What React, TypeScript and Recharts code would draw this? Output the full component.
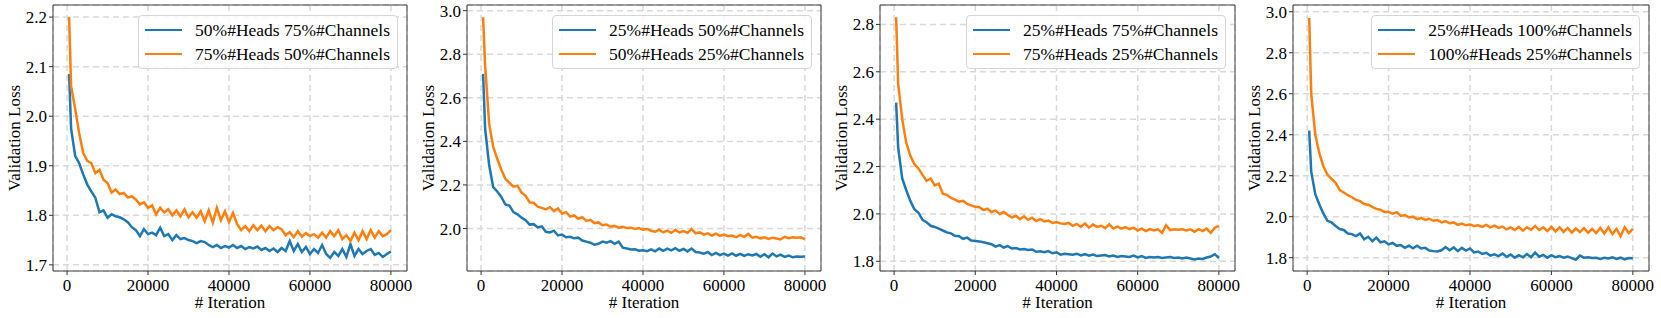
import React from 'react';
import { LineChart, Line, XAxis, YAxis, CartesianGrid, Legend, ReferenceArea } from 'recharts';

const FONT = '"Liberation Serif", "Times New Roman", Times, serif';
const FONT_SIZE = 17;
const BLUE = '#1f77b4';
const ORANGE = '#ff7f0e';

// evaluation checkpoints (x values)
const iterations = [
  500,
  1000, 2000, 3000, 4000, 5000, 6000, 7000, 8000, 9000, 10000,
  11000, 12000, 13000, 14000, 15000, 16000, 17000, 18000, 19000, 20000,
  21000, 22000, 23000, 24000, 25000, 26000, 27000, 28000, 29000, 30000,
  31000, 32000, 33000, 34000, 35000, 36000, 37000, 38000, 39000, 40000,
  41000, 42000, 43000, 44000, 45000, 46000, 47000, 48000, 49000, 50000,
  51000, 52000, 53000, 54000, 55000, 56000, 57000, 58000, 59000, 60000,
  61000, 62000, 63000, 64000, 65000, 66000, 67000, 68000, 69000, 70000,
  71000, 72000, 73000, 74000, 75000, 76000, 77000, 78000, 79000, 80000,
];
const xTicks = [0, 20000, 40000, 60000, 80000];

// panel 1
const p1Names = ['50%#Heads 75%#Channels', '75%#Heads 50%#Channels'];
const p1Blue = [
  2.085,
  1.975, 1.920, 1.905, 1.882, 1.862, 1.848, 1.835, 1.806, 1.810, 1.795,
  1.802, 1.798, 1.796, 1.792, 1.786, 1.776, 1.770, 1.758, 1.772, 1.762,
  1.765, 1.760, 1.775, 1.758, 1.762, 1.750, 1.760, 1.752, 1.754, 1.750,
  1.748, 1.744, 1.748, 1.746, 1.740, 1.736, 1.740, 1.734, 1.738, 1.735,
  1.740, 1.734, 1.738, 1.732, 1.736, 1.733, 1.737, 1.730, 1.734, 1.728,
  1.733, 1.726, 1.734, 1.728, 1.748, 1.728, 1.742, 1.726, 1.736, 1.722,
  1.732, 1.724, 1.740, 1.722, 1.714, 1.726, 1.718, 1.732, 1.716, 1.742,
  1.718, 1.732, 1.722, 1.728, 1.732, 1.720, 1.724, 1.716, 1.722, 1.727,
];
const p1Orange = [
  2.200,
  2.060, 2.015, 1.965, 1.925, 1.910, 1.905, 1.885, 1.892, 1.872, 1.865,
  1.846, 1.852, 1.843, 1.845, 1.836, 1.838, 1.832, 1.822, 1.826, 1.815,
  1.820, 1.802, 1.815, 1.806, 1.812, 1.800, 1.810, 1.798, 1.812, 1.796,
  1.806, 1.795, 1.808, 1.788, 1.810, 1.785, 1.815, 1.790, 1.808, 1.786,
  1.805, 1.782, 1.770, 1.778, 1.768, 1.780, 1.770, 1.779, 1.768, 1.778,
  1.770, 1.776, 1.772, 1.760, 1.766, 1.756, 1.768, 1.757, 1.764, 1.758,
  1.762, 1.755, 1.765, 1.755, 1.768, 1.758, 1.770, 1.752, 1.760, 1.748,
  1.765, 1.750, 1.768, 1.752, 1.770, 1.755, 1.768, 1.758, 1.762, 1.770,
];
const p1Ticks = [1.7, 1.8, 1.9, 2.0, 2.1, 2.2];

// panel 2
const p2Names = ['25%#Heads 50%#Channels', '50%#Heads 25%#Channels'];
const p2Blue = [
  2.710,
  2.460, 2.290, 2.190, 2.170, 2.145, 2.110, 2.105, 2.075, 2.065, 2.050,
  2.038, 2.018, 2.020, 2.005, 2.010, 1.985, 1.982, 1.990, 1.968, 1.972,
  1.960, 1.962, 1.955, 1.958, 1.945, 1.940, 1.935, 1.926, 1.930, 1.940,
  1.935, 1.942, 1.930, 1.940, 1.912, 1.908, 1.904, 1.905, 1.898, 1.900,
  1.896, 1.904, 1.895, 1.908, 1.898, 1.908, 1.900, 1.910, 1.898, 1.906,
  1.895, 1.908, 1.892, 1.890, 1.884, 1.892, 1.878, 1.888, 1.878, 1.885,
  1.876, 1.886, 1.875, 1.884, 1.874, 1.882, 1.876, 1.883, 1.870, 1.882,
  1.868, 1.885, 1.872, 1.880, 1.870, 1.876, 1.868, 1.872, 1.870, 1.871,
];
const p2Orange = [
  2.970,
  2.750, 2.480, 2.375, 2.320, 2.270, 2.228, 2.210, 2.192, 2.196, 2.165,
  2.150, 2.120, 2.118, 2.100, 2.095, 2.088, 2.098, 2.080, 2.092, 2.068,
  2.075, 2.055, 2.060, 2.045, 2.052, 2.035, 2.040, 2.025, 2.028, 2.015,
  2.018, 2.008, 2.012, 2.004, 2.008, 2.002, 2.004, 1.998, 2.002, 1.995,
  1.998, 1.990, 1.985, 1.995, 1.982, 1.990, 1.980, 1.994, 1.982, 1.988,
  1.980, 1.998, 1.978, 1.982, 1.972, 1.978, 1.968, 1.976, 1.966, 1.972,
  1.965, 1.968, 1.960, 1.970, 1.962, 1.975, 1.958, 1.962, 1.955, 1.960,
  1.952, 1.958, 1.954, 1.950, 1.962, 1.956, 1.960, 1.958, 1.960, 1.950,
];
const p2Ticks = [2.0, 2.2, 2.4, 2.6, 2.8, 3.0];

// panel 3
const p3Names = ['25%#Heads 75%#Channels', '75%#Heads 25%#Channels'];
const p3Blue = [
  2.470,
  2.280, 2.150, 2.100, 2.055, 2.020, 2.005, 1.975, 1.965, 1.950, 1.945,
  1.938, 1.930, 1.922, 1.918, 1.908, 1.906, 1.895, 1.900, 1.888, 1.886,
  1.884, 1.880, 1.876, 1.872, 1.862, 1.868, 1.858, 1.864, 1.854, 1.856,
  1.850, 1.852, 1.848, 1.850, 1.840, 1.842, 1.838, 1.843, 1.834, 1.838,
  1.828, 1.832, 1.830, 1.828, 1.832, 1.825, 1.830, 1.824, 1.828, 1.822,
  1.824, 1.826, 1.820, 1.824, 1.818, 1.822, 1.820, 1.818, 1.824, 1.816,
  1.822, 1.814, 1.818, 1.816, 1.818, 1.814, 1.816, 1.818, 1.814, 1.816,
  1.812, 1.816, 1.812, 1.808, 1.812, 1.810, 1.816, 1.820, 1.830, 1.814,
];
const p3Orange = [
  2.830,
  2.550, 2.400, 2.300, 2.245, 2.210, 2.192, 2.165, 2.140, 2.150, 2.120,
  2.128, 2.085, 2.080, 2.068, 2.060, 2.052, 2.055, 2.042, 2.036, 2.030,
  2.028, 2.016, 2.022, 2.008, 2.014, 2.000, 2.008, 1.996, 1.985, 1.992,
  1.978, 1.990, 1.975, 1.984, 1.970, 1.978, 1.968, 1.972, 1.962, 1.966,
  1.960, 1.958, 1.962, 1.950, 1.958, 1.945, 1.960, 1.942, 1.955, 1.945,
  1.950, 1.940, 1.956, 1.938, 1.946, 1.938, 1.944, 1.936, 1.942, 1.930,
  1.938, 1.928, 1.936, 1.930, 1.935, 1.920, 1.952, 1.932, 1.935, 1.933,
  1.935, 1.930, 1.935, 1.925, 1.936, 1.928, 1.938, 1.920, 1.942, 1.950,
];
const p3Ticks = [1.8, 2.0, 2.2, 2.4, 2.6, 2.8];

// panel 4
const p4Names = ['25%#Heads 100%#Channels', '100%#Heads 25%#Channels'];
const p4Blue = [
  2.420,
  2.220, 2.110, 2.060, 2.015, 1.980, 1.972, 1.955, 1.940, 1.935, 1.918,
  1.915, 1.905, 1.918, 1.890, 1.902, 1.880, 1.898, 1.875, 1.880, 1.865,
  1.872, 1.858, 1.862, 1.848, 1.858, 1.846, 1.858, 1.845, 1.848, 1.835,
  1.832, 1.830, 1.836, 1.852, 1.836, 1.850, 1.832, 1.848, 1.835, 1.845,
  1.826, 1.830, 1.818, 1.824, 1.810, 1.816, 1.808, 1.820, 1.804, 1.815,
  1.800, 1.812, 1.802, 1.818, 1.802, 1.825, 1.805, 1.814, 1.800, 1.812,
  1.802, 1.808, 1.800, 1.806, 1.798, 1.790, 1.810, 1.800, 1.802, 1.798,
  1.800, 1.794, 1.800, 1.796, 1.802, 1.794, 1.800, 1.792, 1.798, 1.797,
];
const p4Orange = [
  2.970,
  2.600, 2.400, 2.310, 2.245, 2.205, 2.185, 2.165, 2.130, 2.118, 2.105,
  2.095, 2.082, 2.076, 2.062, 2.058, 2.048, 2.038, 2.034, 2.022, 2.024,
  2.015, 2.022, 2.004, 2.008, 1.996, 2.000, 1.988, 1.994, 1.984, 1.990,
  1.980, 1.984, 1.972, 1.978, 1.968, 1.972, 1.960, 1.966, 1.958, 1.962,
  1.955, 1.958, 1.950, 1.960, 1.948, 1.956, 1.945, 1.952, 1.938, 1.948,
  1.935, 1.950, 1.932, 1.948, 1.936, 1.955, 1.935, 1.948, 1.930, 1.950,
  1.928, 1.948, 1.926, 1.945, 1.922, 1.942, 1.925, 1.945, 1.922, 1.940,
  1.920, 1.946, 1.918, 1.948, 1.915, 1.940, 1.905, 1.948, 1.920, 1.940,
];
const p4Ticks = [1.8, 2.0, 2.2, 2.4, 2.6, 2.8, 3.0];

const X_DOMAIN: [number, number] = [-3475, 83975];
const HEIGHT = 318;
const textStyle = { fontFamily: FONT, fontSize: FONT_SIZE, fill: '#000' };

type PanelProps = {
  left: number;
  width: number;
  names: string[];
  blue: number[];
  orange: number[];
  yDomain: [number, number];
  yTicks: number[];
};

const XTick = (props: any) => {
  const { x, y, payload } = props;
  return (
    <text x={x} y={y} dy={13} textAnchor="middle" style={textStyle}>
      {payload.value}
    </text>
  );
};

const YTick = (props: any) => {
  const { x, y, payload } = props;
  return (
    <text x={x} y={y} dy={6} textAnchor="end" style={textStyle}>
      {Number(payload.value).toFixed(1)}
    </text>
  );
};

const YLabel = (props: any) => {
  const vb = props.viewBox || { x: 0, y: 5, width: 53, height: 266 };
  const cx = vb.x + 19.5;
  const cy = vb.y + vb.height / 2;
  return (
    <text x={cx} y={cy} transform={`rotate(-90, ${cx}, ${cy})`} textAnchor="middle" style={textStyle}>
      Validation Loss
    </text>
  );
};

const XLabel = (props: any) => {
  const vb = props.viewBox || { x: 53, y: 271, width: 354, height: 47 };
  return (
    <text x={vb.x + vb.width / 2} y={308} textAnchor="middle" style={textStyle}>
      # Iteration
    </text>
  );
};

const LegendBox = (props: any) => {
  const names: string[] = props.names;
  const colors = [BLUE, ORANGE];
  return (
    <div
      style={{
        border: '1px solid #d6d6d6',
        borderRadius: 4,
        background: 'rgba(255,255,255,0.85)',
        padding: '2px 7px 2px 6px',
        fontFamily: FONT,
        fontSize: 17.5,
        color: '#000',
        whiteSpace: 'nowrap',
      }}
    >
      {names.map((n, i) => (
        <div key={n} style={{ display: 'flex', alignItems: 'center', height: 24 }}>
          <span style={{ display: 'inline-block', width: 37, height: 2.5, background: colors[i], marginRight: 13 }} />
          <span>{n}</span>
        </div>
      ))}
    </div>
  );
};

const LossPanel: React.FC<PanelProps> = ({ left, width, names, blue, orange, yDomain, yTicks }) => {
  const data = iterations.map((it, i) => ({ iter: it, blue: blue[i], orange: orange[i] }));
  return (
    <div style={{ position: 'absolute', left, top: 0, fontFamily: FONT, fontSize: FONT_SIZE }}>
      <LineChart width={width} height={HEIGHT} data={data} margin={{ top: 5, right: 5, left: 0, bottom: 0 }}>
        <CartesianGrid stroke="#d9d9d9" strokeDasharray="6 4" strokeWidth={1.5} />
        <XAxis
          dataKey="iter"
          type="number"
          domain={X_DOMAIN}
          ticks={xTicks}
          height={47}
          tickSize={4}
          tickMargin={3}
          axisLine={false}
          tickLine={{ stroke: '#333' }}
          tick={<XTick />}
          label={<XLabel />}
        />
        <YAxis
          type="number"
          domain={yDomain}
          ticks={yTicks}
          width={53}
          tickSize={4}
          tickMargin={2}
          axisLine={false}
          tickLine={{ stroke: '#333' }}
          tick={<YTick />}
          label={<YLabel />}
        />
        <ReferenceArea
          x1={X_DOMAIN[0]}
          x2={X_DOMAIN[1]}
          y1={yDomain[0]}
          y2={yDomain[1]}
          fill="none"
          fillOpacity={0}
          stroke="#404040"
          strokeWidth={1}
          ifOverflow="visible"
        />
        <Line type="linear" dataKey="blue" name={names[0]} stroke={BLUE} strokeWidth={2.5} dot={false} isAnimationActive={false} />
        <Line type="linear" dataKey="orange" name={names[1]} stroke={ORANGE} strokeWidth={2.5} dot={false} isAnimationActive={false} />
        <Legend
          layout="horizontal"
          verticalAlign="middle"
          align="center"
          content={<LegendBox names={names} />}
          wrapperStyle={{ top: 15, right: 14, left: 'auto', width: 'auto' }}
        />
      </LineChart>
    </div>
  );
};

export default function App() {
  return (
    <div style={{ position: 'absolute', left: 0, top: 0, width: 1661, height: HEIGHT, background: '#fff' }}>
      <LossPanel left={0} width={412} names={p1Names} blue={p1Blue} orange={p1Orange} yDomain={[1.6876, 2.2244]} yTicks={p1Ticks} />
      <LossPanel left={414} width={412} names={p2Names} blue={p2Blue} orange={p2Orange} yDomain={[1.805, 3.026]} yTicks={p2Ticks} />
      <LossPanel left={827} width={413} names={p3Names} blue={p3Blue} orange={p3Orange} yDomain={[1.759, 2.882]} yTicks={p3Ticks} />
      <LossPanel left={1240} width={414} names={p4Names} blue={p4Blue} orange={p4Orange} yDomain={[1.735, 3.033]} yTicks={p4Ticks} />
    </div>
  );
}
